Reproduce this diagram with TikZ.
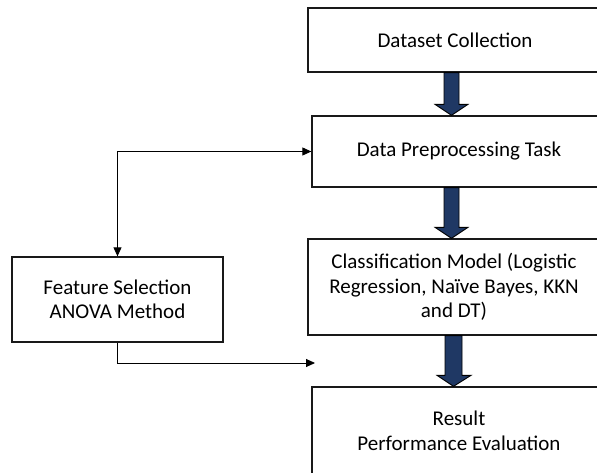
\documentclass[tikz,border=0pt]{standalone}
\usepackage{fontspec}
\setmainfont{Carlito}
\usetikzlibrary{arrows.meta,calc}
\definecolor{navy}{RGB}{31,56,100}
\begin{document}
\begin{tikzpicture}[x=1pt,y=-1pt,
  box/.style={draw=black!90,line width=1.3pt,rectangle,inner sep=0pt,align=center,
    font=\fontsize{21}{24.5}\selectfont},
  conn/.style={draw=black,line width=0.9pt,-{Triangle[length=9pt,width=8pt]}},
  blk/.style={draw=black,line width=0.9pt,fill=navy,line join=miter}]
\useasboundingbox (0,0) rectangle (597,473);
\clip (0,0) rectangle (597,473);
\node[box,minimum width=294pt,minimum height=64pt] (b1) at (455,40) {Dataset Collection};
\node[box,minimum width=294pt,minimum height=71pt] (b2) at (459,151.5) {Data Preprocessing Task};
\node[box,minimum width=292pt,minimum height=96pt] (b3) at (454,287) {Classification Model (Logistic\\Regression, Naïve Bayes, KKN\\and DT)};
\node[box,minimum width=294pt,minimum height=100pt,
  label={[font=\fontsize{21}{24.5}\selectfont,align=center,yshift=6pt]center:Result\\Performance Evaluation}] (b4) at (459,437) {};
\node[box,minimum width=211pt,minimum height=85pt] (fs) at (117.5,299.5) {Feature Selection\\ANOVA Method};
% block arrows
\path let \p1=(b1.south), \p2=(b2.north) in
  [blk] (444pt,\y1) -- (459pt,\y1) -- (459pt,\y2+11pt) -- (468pt,\y2+11pt) -- (451.5pt,\y2)
  -- (435pt,\y2+11pt) -- (444pt,\y2+11pt) -- cycle;
\path let \p1=(b2.south), \p2=(b3.north) in
  [blk] (444pt,\y1) -- (459pt,\y1) -- (459pt,\y2+11pt) -- (468pt,\y2+11pt) -- (451.5pt,\y2)
  -- (435pt,\y2+11pt) -- (444pt,\y2+11pt) -- cycle;
\path let \p1=(b3.south), \p2=(b4.north) in
  [blk] (445pt,\y1) -- (462pt,\y1) -- (462pt,\y2+11pt) -- (471pt,\y2+11pt) -- (453.5pt,\y2)
  -- (437pt,\y2+11pt) -- (445pt,\y2+11pt) -- cycle;
% thin connectors
\draw[conn,{Triangle[length=9pt,width=8pt]}-{Triangle[length=9pt,width=8pt]}] (fs.north) |- (b2.west);
\coordinate (e) at (315,363);
\draw[conn] (fs.south) |- (e);
\end{tikzpicture}
\end{document}
